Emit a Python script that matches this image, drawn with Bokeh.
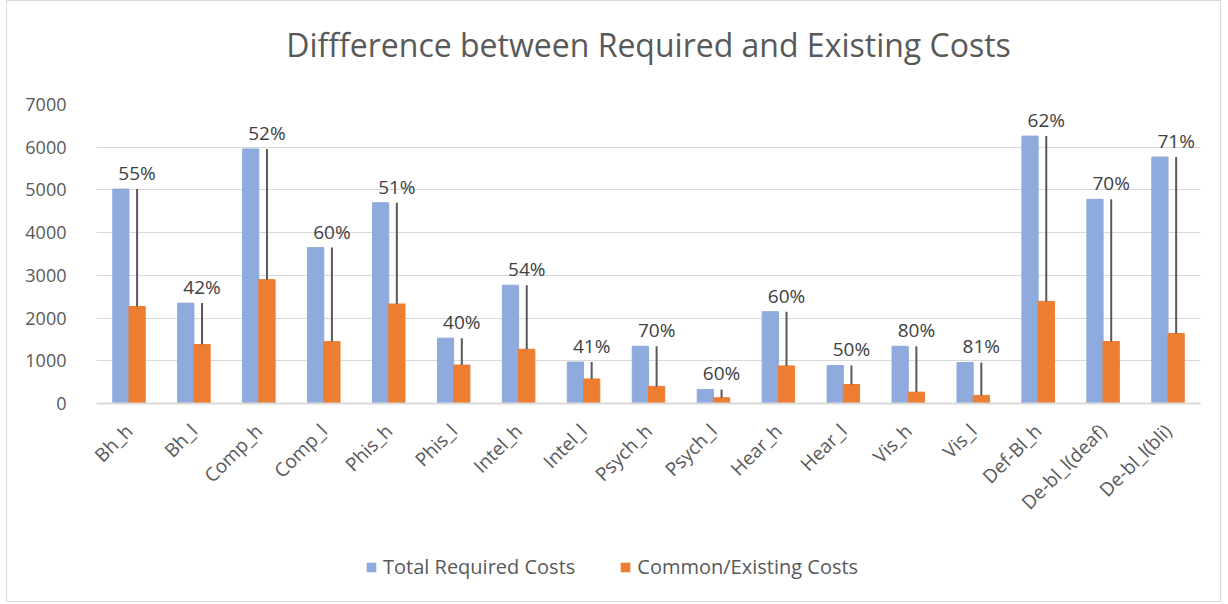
from math import pi
from bokeh.plotting import figure
from bokeh.layouts import column
from bokeh.models import ColumnDataSource, FactorRange, Legend, LegendItem, Title
from bokeh.transform import dodge
from bokeh.core.properties import value
from bokeh.embed import file_html
from bokeh.resources import INLINE

categories = ["Bh_h", "Bh_l", "Comp_h", "Comp_l", "Phis_h", "Phis_l", "Intel_h", "Intel_l",
              "Psych_h", "Psych_l", "Hear_h", "Hear_l", "Vis_h", "Vis_l", "Def-Bl_h",
              "De-bl_l(deaf)", "De-bl_l(bli)"]
total_required = [5020, 2350, 5960, 3650, 4700, 1530, 2770, 970, 1340, 330, 2150, 890, 1340, 960, 6260, 4780, 5770]
common_existing = [2270, 1380, 2900, 1450, 2330, 900, 1270, 575, 400, 135, 880, 445, 265, 190, 2390, 1450, 1640]
pct_labels = ["55%", "42%", "52%", "60%", "51%", "40%", "54%", "41%", "70%", "60%", "60%", "50%",
              "80%", "81%", "62%", "70%", "71%"]
series_names = ["Total Required Costs", "Common/Existing Costs"]
series_colors = ["#8FAADC", "#ED7D31"]

FONT = "Open Sans"
GREY = "#595959"
W = 1213

src = ColumnDataSource(dict(cat=categories, total=total_required, common=common_existing, pct=pct_labels))

p = figure(x_range=FactorRange(*categories), y_range=(0, 7000),
           frame_width=1104, frame_height=299,
           output_backend="svg", toolbar_location=None,
           min_border_left=89, min_border_right=20, min_border_top=103, min_border_bottom=136)

# spacer (closest to the frame) then the real title above it
p.add_layout(Title(text=" ", text_font=FONT, text_font_size="27px", standoff=0), "above")
p.add_layout(Title(text="Diffference between Required and Existing Costs", align="center",
                   text_font=FONT, text_font_size="32px", text_font_style="normal",
                   text_color=GREY, standoff=0), "above")

r1 = p.vbar(x=dodge("cat", -0.125, range=p.x_range), top="total", width=0.25, source=src,
            fill_color=series_colors[0], line_color=series_colors[0])
r2 = p.vbar(x=dodge("cat", 0.125, range=p.x_range), top="common", width=0.25, source=src,
            fill_color=series_colors[1], line_color=series_colors[1])
p.segment(x0=dodge("cat", 0.125, range=p.x_range), x1=dodge("cat", 0.125, range=p.x_range),
          y0="common", y1="total", source=src, line_color=GREY, line_width=2)
p.text(x=dodge("cat", 0.125, range=p.x_range), y="total", text="pct", source=src,
       text_align="center", text_baseline="bottom", y_offset=-3,
       text_font=value(FONT), text_font_size="19px", text_color="#404040")

p.xgrid.grid_line_color = None
p.ygrid.grid_line_color = "#d9d9d9"
p.ygrid.grid_line_width = 1
p.yaxis.ticker = [0, 1000, 2000, 3000, 4000, 5000, 6000, 7000]
p.yaxis.axis_line_color = None
p.yaxis.major_tick_line_color = None
p.yaxis.minor_tick_line_color = None
p.yaxis.major_label_standoff = 24
p.yaxis.major_label_text_font = FONT
p.yaxis.major_label_text_font_size = "18px"
p.yaxis.major_label_text_color = GREY

p.xaxis.axis_line_color = "#d9d9d9"
p.xaxis.axis_line_width = 2
p.xaxis.major_tick_line_color = None
p.xaxis.minor_tick_line_color = None
p.xaxis.major_label_orientation = pi / 4
p.xaxis.major_label_standoff = 18
p.xaxis.major_label_text_font = FONT
p.xaxis.major_label_text_font_size = "19px"
p.xaxis.major_label_text_color = GREY

p.outline_line_color = None

# legend strip below the chart
p2 = figure(width=W, height=62, x_range=(0, 1), y_range=(0, 1),
            output_backend="svg", toolbar_location=None,
            min_border_left=0, min_border_right=0, min_border_top=0, min_border_bottom=0)
p2.axis.visible = False
p2.grid.grid_line_color = None
p2.outline_line_color = None
lr1 = p2.vbar(x=[-10], bottom=[-10], top=[-5], width=0.1, fill_color=series_colors[0], line_color=None)
lr2 = p2.vbar(x=[-10], bottom=[-10], top=[-5], width=0.1, fill_color=series_colors[1], line_color=None)
legend = Legend(items=[LegendItem(label=series_names[0], renderers=[lr1]),
                       LegendItem(label=series_names[1], renderers=[lr2])],
                orientation="horizontal", location=(269, 21),
                label_text_font=FONT, label_text_font_size="20px", label_text_color=GREY,
                glyph_width=12, glyph_height=12, label_standoff=6, spacing=44,
                border_line_color=None, background_fill_alpha=0, margin=0, padding=0)
p2.add_layout(legend, "center")

layout = column(p, p2, spacing=0)
layout.styles = {"border": "1px solid #d9d9d9", "margin-left": "6px"}

open("out.html", "w").write(file_html(layout, INLINE))
